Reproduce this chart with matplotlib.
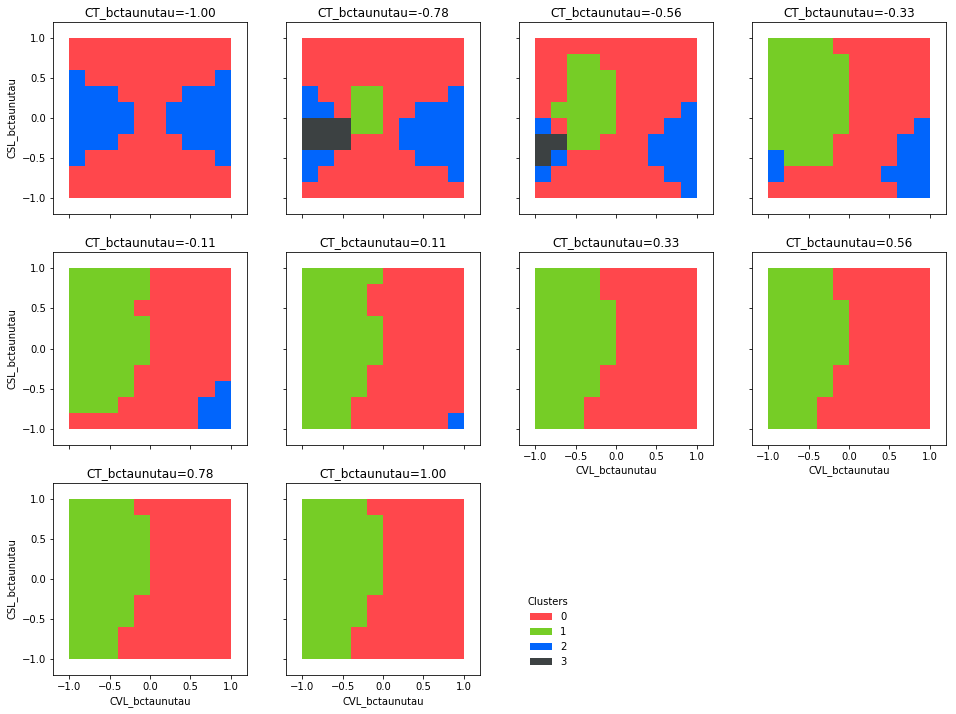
import matplotlib
matplotlib.use('Agg')
import matplotlib.pyplot as plt
from matplotlib.colors import ListedColormap, BoundaryNorm
from matplotlib.patches import Patch
import numpy as np

# CT_bctaunutau slice values, one panel each
ct_values = [-1.00, -0.78, -0.56, -0.33, -0.11, 0.11, 0.33, 0.56, 0.78, 1.00]

# cell edges of the CVL / CSL grid
cvl_edges = np.linspace(-1, 1, 11)
csl_edges = np.linspace(-1, 1, 11)

cluster_ids = [0, 1, 2, 3]
cluster_colors = ['#ff474c', '#76cd26', '#0165fc', '#3c4142']

# cluster labels per panel, rows from top (CSL=1) to bottom (CSL=-1)
ct_m100 = ["0000000000", "0000000000", "2000000002", "2220000222", "2222002222",
           "2222002222", "2220000222", "2000000002", "0000000000", "0000000000"]
ct_m078 = ["0000000000", "0000000000", "0000000000", "2001100002", "2201100222",
           "3331102222", "3330002222", "2200000222", "2000000002", "0000000000"]
ct_m056 = ["0000000000", "0011000000", "0011100000", "0011100000", "0111100002",
           "2011100022", "3311000222", "3200000222", "2000000022", "0000000002"]
ct_m033 = ["1111000000", "1111100000", "1111100000", "1111100000", "1111100000",
           "1111100002", "1111000022", "2111000022", "2000000222", "0000000022"]
ct_m011 = ["1111100000", "1111100000", "1111000000", "1111100000", "1111100000",
           "1111100000", "1111000000", "1111000002", "1110000022", "0000000022"]
ct_p011 = ["1111100000", "1111000000", "1111000000", "1111100000", "1111100000",
           "1111100000", "1111000000", "1111000000", "1110000000", "1110000002"]
ct_p033 = ["1111000000", "1111000000", "1111100000", "1111100000", "1111100000",
           "1111100000", "1111000000", "1111000000", "1110000000", "1110000000"]
ct_p056 = ["1111000000", "1111000000", "1111100000", "1111100000", "1111100000",
           "1111100000", "1111000000", "1111000000", "1110000000", "1110000000"]
ct_p078 = ["1111000000", "1111100000", "1111100000", "1111100000", "1111100000",
           "1111100000", "1111000000", "1111000000", "1110000000", "1110000000"]
ct_p100 = ["1111000000", "1111100000", "1111100000", "1111100000", "1111100000",
           "1111100000", "1111000000", "1111000000", "1110000000", "1110000000"]

panels = [ct_m100, ct_m078, ct_m056, ct_m033, ct_m011,
          ct_p011, ct_p033, ct_p056, ct_p078, ct_p100]

cmap = ListedColormap(cluster_colors)
norm = BoundaryNorm(np.arange(-0.5, 4.5, 1), cmap.N)

fig, axes = plt.subplots(3, 4, figsize=(956 / 72, 714 / 72), dpi=72, sharex=True, sharey=True)
plt.subplots_adjust(left=0.0554, right=0.9895, top=0.9692, bottom=0.0546,
                    wspace=0.201, hspace=0.2)
axes = axes.flatten()

for i, (ct, rows) in enumerate(zip(ct_values, panels)):
    ax = axes[i]
    grid = np.array([[int(c) for c in r] for r in rows])[::-1]
    ax.pcolormesh(cvl_edges, csl_edges, grid, cmap=cmap, norm=norm)
    ax.set_xlim(-1.2, 1.2)
    ax.set_ylim(-1.2, 1.2)
    ax.set_xticks([-1.0, -0.5, 0.0, 0.5, 1.0])
    ax.set_yticks([-1.0, -0.5, 0.0, 0.5, 1.0])
    ax.set_title(f'CT_bctaunutau={ct:.2f}', fontsize=12)
    ax.tick_params(labelsize=10)
    if i % 4 == 0:
        ax.set_ylabel('CSL_bctaunutau', fontsize=10)
    if i in (6, 7, 8, 9):
        ax.set_xlabel('CVL_bctaunutau', fontsize=10)
        ax.xaxis.set_tick_params(labelbottom=True)

axes[10].remove()
axes[11].remove()

handles = [Patch(facecolor=c, label=str(k)) for k, c in zip(cluster_ids, cluster_colors)]
fig.legend(handles=handles, title='Clusters', frameon=False, loc='upper left',
           bbox_to_anchor=(519 / 956, 1 - 588 / 714), fontsize=10, title_fontsize=10,
           handlelength=2.2, handleheight=0.8)

fig.savefig('out.png', dpi=72)
